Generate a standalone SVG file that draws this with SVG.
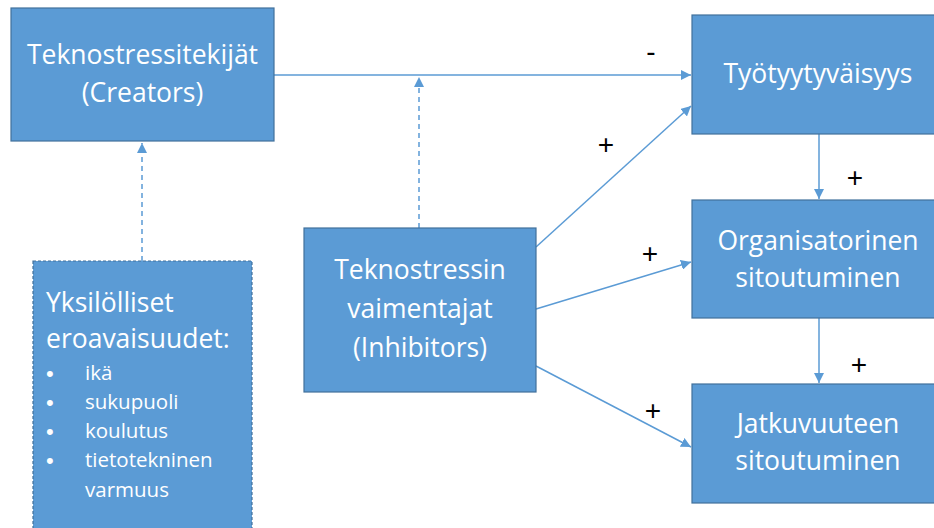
<svg xmlns="http://www.w3.org/2000/svg" width="934" height="528" viewBox="0 0 934 528">
<defs>
<style>
.box{fill:#5B9BD5;stroke:#41719C;stroke-width:1.2}
.dbox{fill:#5B9BD5;stroke:#41719C;stroke-width:1.2;stroke-dasharray:3 2}
.t{font-family:"Open Sans","Liberation Sans",sans-serif;fill:#fff;font-size:26.5px}
.s{font-family:"Open Sans","Liberation Sans",sans-serif;fill:#fff;font-size:20.5px}
.b{font-family:"Liberation Sans",sans-serif;fill:#fff;font-size:22px}
.c{fill:none;stroke:#5B9BD5;stroke-width:1.5}
.d{fill:none;stroke:#5B9BD5;stroke-width:1.5;stroke-dasharray:5 4}
.l{font-family:"Liberation Sans",sans-serif;fill:#000;font-size:28px}
</style>
<marker id="a" viewBox="0 0 10 10" refX="10" refY="5" markerWidth="10" markerHeight="10" markerUnits="userSpaceOnUse" orient="auto">
<path d="M0,0 L10,5 L0,10 z" fill="#5B9BD5"/>
</marker>
</defs>
<g id="connectors">
<line class="c" x1="274" y1="75" x2="691" y2="75" marker-end="url(#a)"/>
<line class="d" x1="419" y1="228" x2="419" y2="77" marker-end="url(#a)"/>
<line class="d" x1="142" y1="261" x2="142" y2="143" marker-end="url(#a)"/>
<line class="c" x1="536" y1="247" x2="691" y2="106" marker-end="url(#a)"/>
<line class="c" x1="536" y1="309" x2="691" y2="262" marker-end="url(#a)"/>
<line class="c" x1="536" y1="366" x2="691" y2="447" marker-end="url(#a)"/>
<line class="c" x1="819" y1="134" x2="819" y2="199" marker-end="url(#a)"/>
<line class="c" x1="819" y1="318" x2="819" y2="383" marker-end="url(#a)"/>
</g>
<g id="labels">
<text class="l" x="651" y="61" text-anchor="middle">-</text>
<text class="l" x="606" y="154" text-anchor="middle">+</text>
<text class="l" x="650" y="263" text-anchor="middle">+</text>
<text class="l" x="653" y="420" text-anchor="middle">+</text>
<text class="l" x="855" y="187" text-anchor="middle">+</text>
<text class="l" x="859" y="374" text-anchor="middle">+</text>
</g>
<g id="creators">
<rect class="box" x="11" y="8" width="263" height="133"/>
<text class="t" x="142.5" y="64" text-anchor="middle">Teknostressitekijät</text>
<text class="t" x="142.5" y="102" text-anchor="middle">(Creators)</text>
</g>
<g id="yksilolliset">
<rect class="dbox" x="33" y="261" width="219" height="280"/>
<text class="t" x="46" y="312">Yksilölliset</text>
<text class="t" x="46" y="348">eroavaisuudet:</text>
<text class="b" x="46" y="381">•</text><text class="s" x="85" y="380">ikä</text>
<text class="b" x="46" y="410">•</text><text class="s" x="85" y="409">sukupuoli</text>
<text class="b" x="46" y="439">•</text><text class="s" x="85" y="438">koulutus</text>
<text class="b" x="46" y="468">•</text><text class="s" x="85" y="467">tietotekninen</text>
<text class="s" x="85" y="497">varmuus</text>
</g>
<g id="inhibitors">
<rect class="box" x="304" y="228" width="232" height="164"/>
<text class="t" x="420" y="279" text-anchor="middle">Teknostressin</text>
<text class="t" x="420" y="318" text-anchor="middle">vaimentajat</text>
<text class="t" x="420" y="357" text-anchor="middle">(Inhibitors)</text>
</g>
<g id="tyotyytyvaisyys">
<rect class="box" x="692" y="15" width="250" height="119"/>
<text class="t" x="818" y="83" text-anchor="middle">Työtyytyväisyys</text>
</g>
<g id="organisatorinen">
<rect class="box" x="692" y="200" width="250" height="118"/>
<text class="t" x="818" y="250" text-anchor="middle">Organisatorinen</text>
<text class="t" x="818" y="287" text-anchor="middle">sitoutuminen</text>
</g>
<g id="jatkuvuuteen">
<rect class="box" x="692" y="384" width="250" height="119"/>
<text class="t" x="818" y="433" text-anchor="middle">Jatkuvuuteen</text>
<text class="t" x="818" y="470" text-anchor="middle">sitoutuminen</text>
</g>
</svg>
